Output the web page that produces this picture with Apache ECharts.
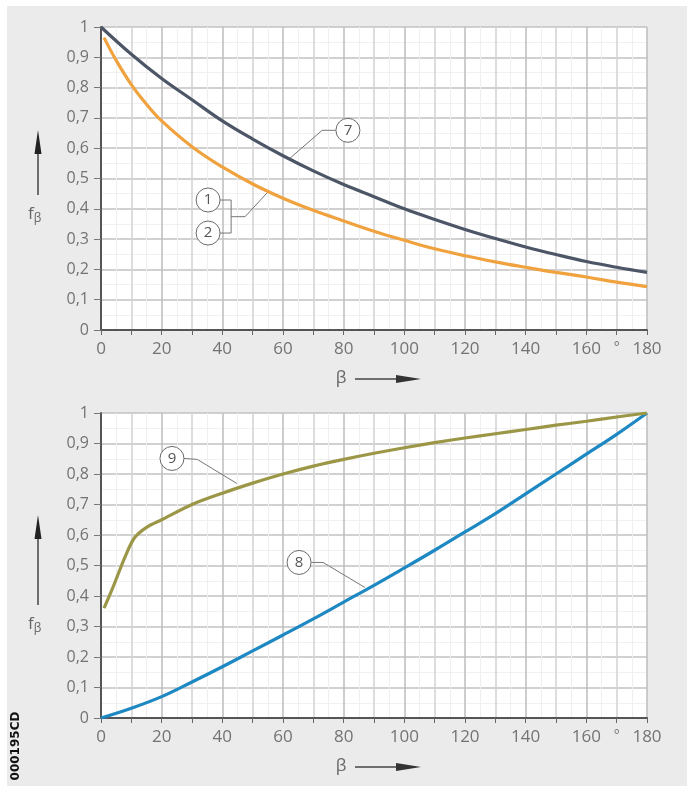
<!DOCTYPE html>
<html>
<head>
<meta charset="utf-8">
<script src="https://cdn.jsdelivr.net/npm/echarts@6/dist/echarts.min.js"></script>
<style>
  html, body { margin: 0; padding: 0; background: #fff; }
  #chart { width: 687px; height: 786px; }
</style>
</head>
<body>
<div id="chart"></div>
<script>
// top chart: curve 7 (dark) and curves 1/2 (orange)
const beta7 = [0, 10, 20, 30, 40, 50, 60, 70, 80, 90, 100, 110, 120, 130, 140, 150, 160, 170, 180];
const f7 = [1.0, 0.91, 0.83, 0.76, 0.69, 0.63, 0.575, 0.525, 0.48, 0.44, 0.40, 0.365, 0.332, 0.302, 0.274, 0.249, 0.226, 0.207, 0.19];

const beta12 = [1, 5, 10, 15, 20, 30, 40, 50, 60, 70, 80, 90, 100, 110, 120, 130, 140, 150, 160, 170, 180];
const f12 = [0.965, 0.89, 0.81, 0.745, 0.69, 0.605, 0.538, 0.482, 0.435, 0.395, 0.36, 0.326, 0.296, 0.268, 0.245, 0.225, 0.207, 0.19, 0.175, 0.158, 0.143];

// bottom chart: curve 8 (blue) and curve 9 (olive)
const beta8 = [0, 10, 20, 30, 40, 50, 60, 70, 80, 90, 100, 110, 120, 130, 140, 150, 160, 170, 180];
const f8 = [0, 0.032, 0.07, 0.118, 0.168, 0.22, 0.272, 0.325, 0.38, 0.435, 0.492, 0.55, 0.61, 0.67, 0.735, 0.80, 0.865, 0.93, 1.0];

const beta9 = [1, 4, 8, 11, 15, 20, 30, 40, 50, 60, 70, 80, 90, 100, 110, 120, 130, 140, 150, 160, 170, 180];
const f9 = [0.36, 0.43, 0.53, 0.59, 0.625, 0.65, 0.70, 0.737, 0.77, 0.80, 0.826, 0.848, 0.868, 0.886, 0.903, 0.918, 0.932, 0.946, 0.96, 0.973, 0.987, 1.0];

// circled labels: [text, grid, beta, f] and leader paths in data coords
const labels = [
  ['7', 0, 81.4, 0.659],
  ['1', 0, 35.3, 0.429],
  ['2', 0, 35.3, 0.32],
  ['9', 1, 23.4, 0.851],
  ['8', 1, 65.3, 0.51],
];
const leaders = [
  [0, [[77.4, 0.659], [72.9, 0.659], [62.3, 0.567]]],
  [0, [[39.3, 0.429], [42.9, 0.429], [42.9, 0.32], [39.3, 0.32]]],
  [0, [[42.9, 0.374], [47.5, 0.374], [54.7, 0.452]]],
  [1, [[27.4, 0.851], [31.7, 0.848], [44.8, 0.769]]],
  [1, [[69.3, 0.51], [73.2, 0.51], [87, 0.428]]],
];

const zip = (xs, ys) => xs.map((x, i) => [x, ys[i]]);

const labelColor = '#737373';
const font = 'Open Sans';

const fmtY = (v) => (v === 0 ? '0' : v === 1 ? '1' : v.toFixed(1).replace('.', ','));
const fmtX = (v) => {
  if (v === 170) return '{deg|°}';
  return v % 20 === 0 ? String(v) : '';
};

const makeX = (gridIndex) => ({
  type: 'value',
  gridIndex,
  min: 0,
  max: 180,
  interval: 10,
  axisLine: { show: true, onZero: false, lineStyle: { color: '#555', width: 2 } },
  axisTick: { show: true, length: 5, lineStyle: { color: '#666' } },
  axisLabel: {
    formatter: fmtX,
    color: labelColor,
    fontFamily: font,
    fontSize: 17,
    margin: 11,
    rich: { deg: { fontSize: 14, color: labelColor, padding: [0, 0, 9, 0] } },
  },
  splitLine: { show: true, lineStyle: { color: ['#bdbdbd', '#d2d2d2'], width: 1.5 } },
  minorTick: { show: false, splitNumber: 2 },
  minorSplitLine: { show: true, lineStyle: { color: '#efefef' } },
});

const makeY = (gridIndex) => ({
  type: 'value',
  gridIndex,
  min: 0,
  max: 1,
  interval: 0.1,
  axisLine: { show: true, onZero: false, lineStyle: { color: '#555', width: 2 } },
  axisTick: { show: true, length: 7, lineStyle: { color: '#777' } },
  axisLabel: { formatter: fmtY, color: labelColor, fontFamily: font, fontSize: 16, margin: 12 },
  splitLine: { show: true, lineStyle: { color: '#c2c2c2', width: 1.5 } },
  minorTick: { show: false, splitNumber: 2 },
  minorSplitLine: { show: true, lineStyle: { color: '#f1f1f1' } },
});

const line = (name, xIdx, data, color, smooth = 0.4) => ({
  name,
  type: 'line',
  xAxisIndex: xIdx,
  yAxisIndex: xIdx,
  data,
  smooth,
  symbol: 'none',
  lineStyle: { color, width: 3.2 },
  z: 5,
  animation: false,
});

const chart = echarts.init(document.getElementById('chart'), null, { renderer: 'canvas' });

const axisTitles = (top, arrowTip, arrowEnd, fY) => [
  // x title: beta with arrow
  { type: 'text', x: 341, y: top, style: { text: 'β', font: '17px "Open Sans"', fill: '#666', align: 'center', verticalAlign: 'middle' } },
  { type: 'line', shape: { x1: 355, y1: top + 1, x2: 400, y2: top + 1 }, style: { stroke: '#444', lineWidth: 1.5 } },
  { type: 'polygon', shape: { points: [[396, top - 3], [421, top + 1], [396, top + 5]] }, style: { fill: '#333' } },
  // y title: f_beta with arrow
  { type: 'line', shape: { x1: 38, y1: arrowEnd, x2: 38, y2: arrowTip + 20 }, style: { stroke: '#444', lineWidth: 1.5 } },
  { type: 'polygon', shape: { points: [[34.5, arrowTip + 24], [38, arrowTip], [41.5, arrowTip + 24]] }, style: { fill: '#222' } },
  {
    type: 'text', x: 28, y: fY,
    style: {
      text: '{a|f}{b|β}',
      verticalAlign: 'middle',
      rich: {
        a: { fontSize: 17, fontFamily: font, fill: '#666', color: '#666' },
        b: { fontSize: 12, fontFamily: font, fill: '#666', color: '#666', padding: [10, 0, 0, 0] },
      },
    },
  },
];

chart.setOption({
  animation: false,
  backgroundColor: '#ffffff',
  grid: [
    { left: 101, right: 40, top: 27, height: 303, show: true, backgroundColor: '#fff', borderWidth: 0 },
    { left: 101, right: 40, top: 413, height: 305, show: true, backgroundColor: '#fff', borderWidth: 0 },
  ],
  xAxis: [makeX(0), makeX(1)],
  yAxis: [makeY(0), makeY(1)],
  series: [
    line('1/2', 0, zip(beta12, f12), '#f0a23e'),
    line('7', 0, zip(beta7, f7), '#4d5667'),
    line('8', 1, zip(beta8, f8), '#1d88c2'),
    line('9', 1, zip(beta9, f9), '#9c9647', 0.3),
  ],
});

const px = (g, p) => chart.convertToPixel({ gridIndex: g }, p);

const graphics = [
  { type: 'rect', z: -10, silent: true, shape: { x: 7, y: 6, width: 680, height: 780 }, style: { fill: '#ebebeb' } },
  ...axisTitles(378, 130, 195, 214),
  ...axisTitles(766, 515, 605, 624),
  {
    type: 'text', x: 16, y: 746, rotation: Math.PI / 2,
    style: { text: '000195CD', font: 'bold 12px "DejaVu Sans"', fill: '#111', align: 'center', verticalAlign: 'middle' },
  },
];

leaders.forEach(([g, pts]) => {
  graphics.push({
    type: 'polyline', z: 20,
    shape: { points: pts.map((p) => px(g, p)) },
    style: { stroke: '#777', lineWidth: 1, fill: null },
  });
});

labels.forEach(([t, g, b, f]) => {
  const [cx, cy] = px(g, [b, f]);
  graphics.push({ type: 'circle', z: 21, shape: { cx, cy, r: 12 }, style: { fill: '#fff', stroke: '#6a6a6a', lineWidth: 1 } });
  graphics.push({
    type: 'text', z: 22, x: cx, y: cy,
    style: { text: t, font: '15px "Open Sans"', fill: '#555', align: 'center', verticalAlign: 'middle' },
  });
});

chart.setOption({ graphic: graphics });
</script>
</body>
</html>
